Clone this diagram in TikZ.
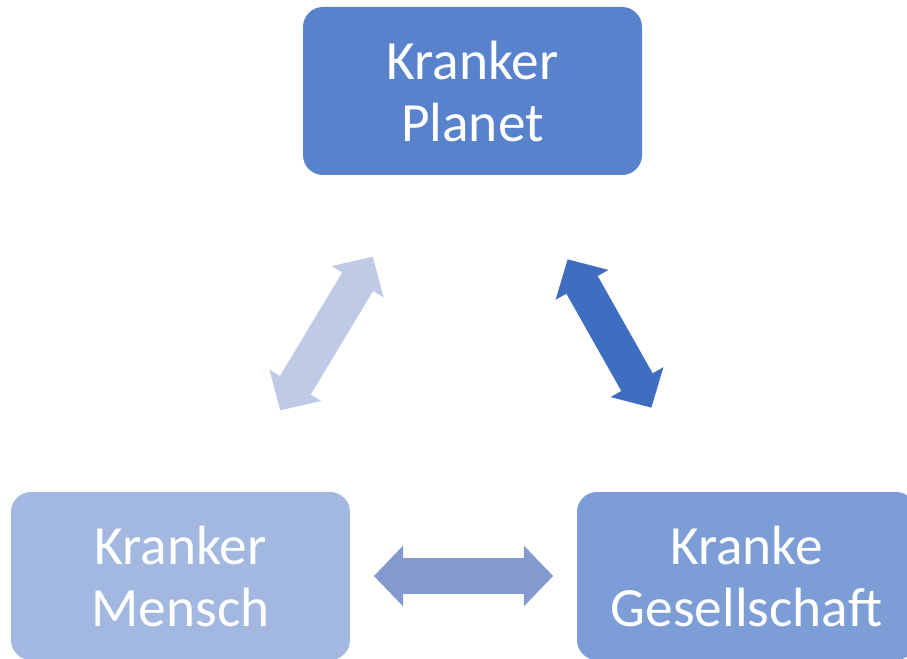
\documentclass[tikz,border=0pt]{standalone}
\usepackage{fontspec}
\setmainfont{Carlito}
\usetikzlibrary{arrows.meta}

\definecolor{planetfill}{HTML}{5882CB}
\definecolor{menschfill}{HTML}{A3B8E0}
\definecolor{gesellfill}{HTML}{7C9DD5}
\definecolor{leftarrow}{HTML}{BFCBE6}
\definecolor{rightarrow}{HTML}{3F6DBF}
\definecolor{bottomarrow}{HTML}{839ACF}

\begin{document}
\begin{tikzpicture}[x=0.75pt, y=-0.75pt,
    box/.style={rounded corners=15pt, minimum width=254.25pt, minimum height=126pt,
      inner sep=0pt, text=white, align=center, font=\fontsize{41.5}{46.5}\selectfont},
    dblarrow/.style={line width=27pt,
      {Triangle[length=22pt, width=44.25pt]}-{Triangle[length=22pt, width=44.25pt]},
      shorten <=145pt, shorten >=145pt}]
    \useasboundingbox (0, 0) rectangle (907, 659);
    \clip (0, 0) rectangle (907, 659);
    % boxes
    \node [box, fill=planetfill] (planet) at (472.5, 91)  {Kranker\\Planet};
    \node [box, fill=menschfill] (mensch) at (180.5, 576) {Kranker\\Mensch};
    \node [box, fill=gesellfill] (gesell) at (746.5, 576) {Kranke\\Gesellschaft};
    % arrows
    \draw [dblarrow, leftarrow]   (planet.center) -- (mensch.center);
    \draw [dblarrow, rightarrow]  (planet.center) -- (gesell.center);
    \draw [dblarrow, bottomarrow] (mensch.center) -- (gesell.center);
\end{tikzpicture}
\end{document}
